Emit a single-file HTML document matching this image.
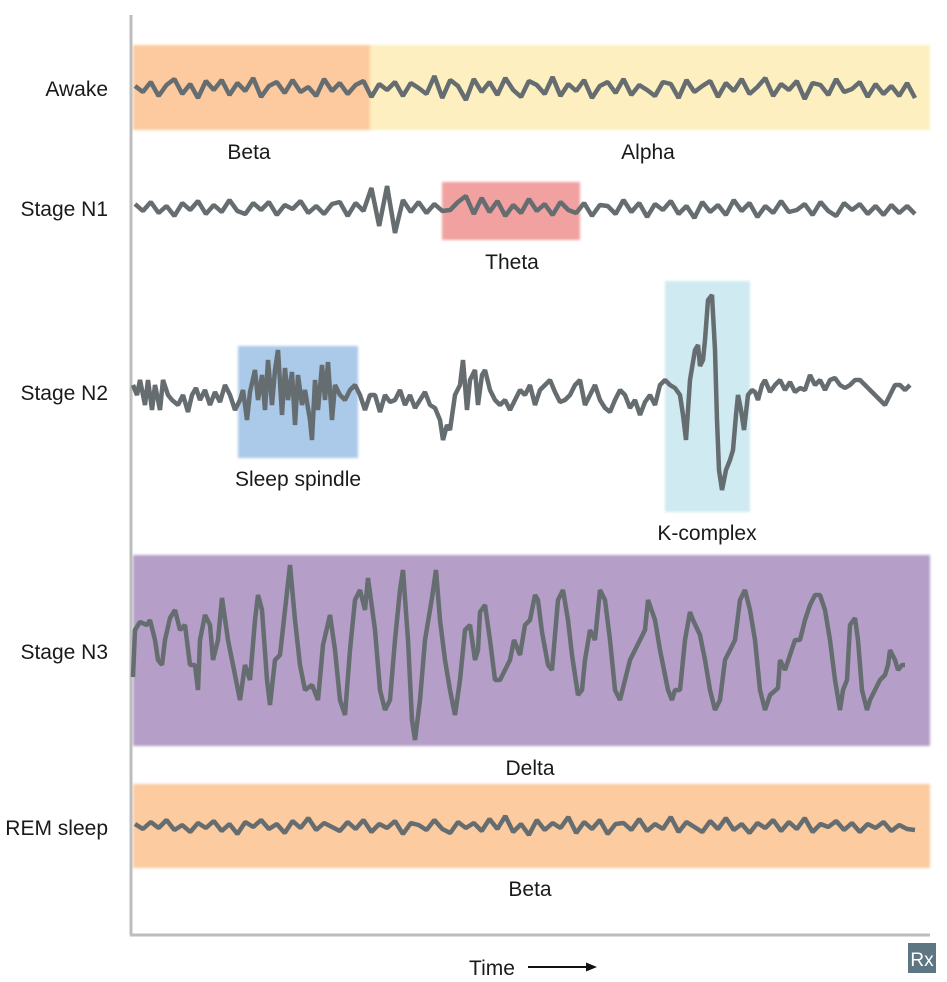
<!DOCTYPE html>
<html><head><meta charset="utf-8"><style>
body{margin:0;background:#fff;}
svg{display:block;font-family:"Liberation Sans",sans-serif;}
</style></head><body>
<svg id="chart" width="947" height="982" viewBox="0 0 947 982">
<defs><filter id="soft"><feGaussianBlur stdDeviation="1.2"/></filter></defs>
<g filter="url(#soft)">
<rect x="133" y="45" width="238" height="85" fill="#fcca9e"/>
<rect x="370" y="45" width="560" height="85" fill="#fdefc0"/>
<rect x="442" y="182" width="138" height="58" fill="#f0a1a0"/>
<rect x="238" y="346" width="120" height="112" fill="#abc9e9"/>
<rect x="665" y="281" width="85" height="231" fill="#cfeaf1"/>
<rect x="133" y="555" width="797" height="191" fill="#b59ec8"/>
<rect x="133" y="784" width="797" height="84" fill="#fccb9f"/>
</g>
<line x1="131" y1="15" x2="131" y2="935" stroke="#bdbdbd" stroke-width="3"/>
<line x1="130" y1="935" x2="930" y2="935" stroke="#bdbdbd" stroke-width="3"/>
<g id="traces"></g>
<g font-size="21" fill="#1a1a1a" text-anchor="end">
<text x="108" y="96">Awake</text>
<text x="108" y="216">Stage N1</text>
<text x="108" y="400">Stage N2</text>
<text x="108" y="659">Stage N3</text>
<text x="108" y="835">REM sleep</text>
</g>
<g font-size="21" fill="#1a1a1a" text-anchor="middle">
<text x="249" y="159">Beta</text>
<text x="648" y="159">Alpha</text>
<text x="512" y="269">Theta</text>
<text x="298" y="486">Sleep spindle</text>
<text x="707" y="540">K-complex</text>
<text x="530" y="775">Delta</text>
<text x="530" y="896">Beta</text>
<text x="492" y="975">Time</text>
</g>
<g>
<line x1="528" y1="967" x2="588" y2="967" stroke="#111" stroke-width="2"/>
<polygon points="597,967 586,962.5 586,971.5" fill="#111"/>
</g>
<g>
<rect x="908" y="943" width="28" height="30" fill="#5e7684"/>
<text x="922" y="966" font-size="19" fill="#fff" text-anchor="middle" font-family="Liberation Sans, sans-serif">Rx</text>
</g>
</svg>
<script>
const awakeVals=[2,-4,6,-8,3,9,-6,4,-10,7,-2,8,-7,5,-3,10,-9,2,6,-5,8,-4,1,-8,9,-3,5,-6,3,7,-9,4,-2,6,-8,5,0,-6,12,-10,8,2,-12,9,-4,6,-7,10,-2,-9,7,3,-6,11,-8,4,-3,8,-10,2,6,-5,9,-7,3,-2,-8,6,4,-10,8,-4,2,7,-9,5,-3,9,-6,1,10,-8,4,-2,7,-11,5,3,-7,9,-4,-1,6,-9,4,-6,2,-8,5,-10];
const n1Vals=[4,-3,6,-5,2,-8,5,-2,7,-6,3,-4,8,-3,-6,5,-2,6,-7,3,-1,7,-5,2,-6,4,6,-8,5,-3,20,-18,22,-25,8,-4,6,-5,4,-3,-2,6,12,-6,10,-4,7,-8,3,-5,9,-3,4,-7,6,-2,-5,5,-8,3,2,-6,8,-4,5,-9,4,-2,7,-6,2,-10,6,-4,3,-7,8,-3,5,-9,2,-5,7,-4,-2,4,-7,6,-3,-8,5,-2,4,-6,2,-7,3,-5,2,-6];
const remVals=[2,-3,4,-2,6,-4,1,-6,3,-2,5,-5,2,-8,4,-1,6,-3,2,-7,5,-2,8,-4,3,-1,-5,4,-3,6,-6,2,-2,5,-8,3,1,-4,6,-3,-7,4,-2,3,-5,7,-3,10,-6,2,-9,6,-4,3,-2,9,-7,4,-3,6,-8,2,3,-4,7,-5,2,-3,9,-6,4,-1,-6,5,-3,8,-4,2,-7,3,-2,6,-5,4,-3,8,-6,2,-1,5,-4,3,-6,2,-2,4,-5,1,-3,-4];
const n2Times=[3,7,10,15,18,22,25,30,33,38,42,48,53,58,62,66,70,75,80,85,90,95,100,105,110,113,117,120,125,128,132,135,138,142,145,148,152,155,158,162,165,168,172,175,180,182,185,188,192,195,198,202,205,210,215,220,225,230,235,240,245,250,255,260,265,270,275,280,285,290,295,300,305,310,313,317,320,325,330,333,337,340,345,348,352,355,360,365,370,375,380,385,390,395,400,405,410,415,420,425,430,435,440,445,450,455,460,465,470,475,480,485,490,495,500,505,510,515,520,525,530,535,540,545,550,553,556,560,565,568,570,573,575,578,582,585,587,589,592,596,600,603,606,608,611,614,618,622,625,628,632,635,640,645,650,655,660,665,670,675,680,685,690,695,700,705,710,715,720,725,730,735,740,745,750,755,760,765,770,775,780];
const n2Vals=[7,-3,12,-13,12,-18,7,-18,12,-3,-8,-13,-3,-20,-3,4,-8,2,-13,0,-10,7,-3,-18,-8,2,-28,0,22,-8,17,-18,32,-13,22,42,-23,24,-8,20,-33,17,-13,2,-28,-48,12,-18,27,-8,30,-28,7,-3,-8,2,7,-3,-18,-3,-3,-20,-3,-10,-8,2,-13,-3,-16,-8,0,-13,-16,-28,-48,-33,-38,-3,7,32,-18,12,22,-13,17,22,2,-8,-13,-8,-18,-8,2,-3,7,-13,2,7,12,0,-10,-8,-3,7,12,-13,-3,7,-8,-16,-20,-8,2,-3,-16,-8,-23,-10,-3,-13,7,12,7,4,-3,-23,-48,12,42,47,26,32,52,92,97,42,-28,-78,-98,-78,-68,-58,-23,-3,-18,-38,-3,2,0,-8,7,12,0,7,12,2,10,0,4,2,17,7,12,2,12,14,7,4,7,12,12,7,2,-3,-8,-13,-3,7,7,2,7];
const n3Times=[3,5,10,17,20,25,28,32,35,40,45,50,55,60,65,68,70,75,80,83,88,92,98,102,110,115,120,125,128,132,137,140,145,150,155,160,165,170,175,182,188,193,200,205,210,215,220,225,230,235,238,245,250,255,260,265,270,273,278,282,285,290,295,302,306,310,315,320,325,330,335,340,345,348,350,355,360,365,370,375,380,384,390,395,400,405,408,412,418,422,428,433,438,442,448,452,455,460,465,470,475,480,485,490,495,500,505,510,515,518,525,530,538,542,545,550,555,560,563,570,575,580,585,590,595,600,605,610,615,620,625,630,635,640,648,650,655,660,665,670,675,680,685,690,695,700,705,710,713,717,720,725,728,732,737,740,745,750,755,758,760,765,768,772,775];
const n3Vals=[-27,20,28,25,30,10,-10,-15,10,32,40,20,25,-15,-15,-40,10,35,25,-10,10,52,10,-10,-50,-15,-30,30,55,40,-30,-55,-10,-5,40,85,30,-15,-40,-35,-50,5,35,0,-50,-65,0,50,60,40,72,20,-40,-60,-50,10,60,80,10,-70,-90,-50,10,52,80,30,-10,-40,-65,-30,20,25,-10,0,38,45,10,-30,-30,-20,-10,10,-5,25,30,55,50,18,-15,-20,50,60,30,-5,-45,-40,-10,20,10,60,50,10,-40,-50,-30,-10,0,10,20,50,30,0,-40,-50,-40,-40,10,38,30,15,-10,-40,-60,-50,-10,0,10,50,60,40,10,-40,-60,-45,-38,-10,-20,-5,10,10,30,45,55,55,40,10,-30,-60,-40,-30,25,32,10,-40,-60,-50,-40,-30,-25,-15,0,-10,-20,-15,-15];

const NS="http://www.w3.org/2000/svg";
const tScale=t=>130+t;
const xEven=(i,n,x0,x1)=>x0+(x1-x0)*i/(n-1);
const yScale=(v,center,k)=>center-v*k;
const g=document.getElementById('traces');
function drawPath(pts,name){
  const p=document.createElementNS(NS,'path');
  p.setAttribute('d','M'+pts.map(q=>q[0].toFixed(1)+','+q[1].toFixed(1)).join('L'));
  p.setAttribute('fill','none');
  p.setAttribute('stroke','#656d70');
  p.setAttribute('stroke-width','4.5');
  p.setAttribute('stroke-linejoin','bevel');
  
  
  g.appendChild(p);
}
function evenTrace(vals,x0,x1,center,k,name){
  drawPath(vals.map((v,i)=>[xEven(i,vals.length,x0,x1),yScale(v,center,k)]),name);
}
function timedTrace(ts,vals,center,k,name){
  const n=Math.min(ts.length,vals.length);const pts=[];
  for(let i=0;i<n;i++)pts.push([tScale(ts[i]),yScale(vals[i],center,k)]);
  drawPath(pts,name);
}
evenTrace(awakeVals,135,915,88,1,'awake-trace');
evenTrace(n1Vals,135,915,208,1,'stage-n1-trace');
timedTrace(n2Times,n2Vals,392,1,'stage-n2-trace');
timedTrace(n3Times,n3Vals,650,1,'stage-n3-trace');
evenTrace(remVals,135,915,826,1,'rem-trace');
</script>
</body></html>
